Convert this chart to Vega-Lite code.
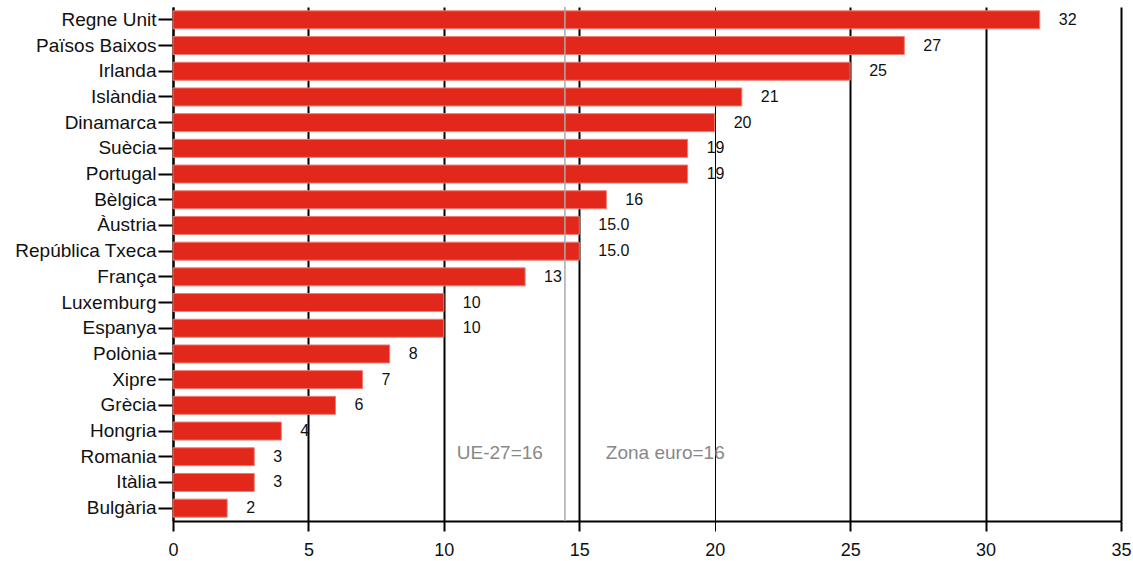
{
  "$schema": "https://vega.github.io/schema/vega-lite/v6.json",
  "autosize": "none",
  "width": 948,
  "height": 514,
  "padding": {"left": 173, "top": 7, "right": 12, "bottom": 40},
  "background": "white",
  "config": {"view": {"stroke": null}, "font": "Liberation Sans"},
  "datasets": {
    "bars": [
      {"pais": "Regne Unit", "valor": 32, "etiqueta": "32"},
      {"pais": "Països Baixos", "valor": 27, "etiqueta": "27"},
      {"pais": "Irlanda", "valor": 25, "etiqueta": "25"},
      {"pais": "Islàndia", "valor": 21, "etiqueta": "21"},
      {"pais": "Dinamarca", "valor": 20, "etiqueta": "20"},
      {"pais": "Suècia", "valor": 19, "etiqueta": "19"},
      {"pais": "Portugal", "valor": 19, "etiqueta": "19"},
      {"pais": "Bèlgica", "valor": 16, "etiqueta": "16"},
      {"pais": "Àustria", "valor": 15, "etiqueta": "15.0"},
      {"pais": "República Txeca", "valor": 15, "etiqueta": "15.0"},
      {"pais": "França", "valor": 13, "etiqueta": "13"},
      {"pais": "Luxemburg", "valor": 10, "etiqueta": "10"},
      {"pais": "Espanya", "valor": 10, "etiqueta": "10"},
      {"pais": "Polònia", "valor": 8, "etiqueta": "8"},
      {"pais": "Xipre", "valor": 7, "etiqueta": "7"},
      {"pais": "Grècia", "valor": 6, "etiqueta": "6"},
      {"pais": "Hongria", "valor": 4, "etiqueta": "4"},
      {"pais": "Romania", "valor": 3, "etiqueta": "3"},
      {"pais": "Itàlia", "valor": 3, "etiqueta": "3"},
      {"pais": "Bulgària", "valor": 2, "etiqueta": "2"}
    ],
    "refs": [
      {"nom": "UE-27=16", "valor": 14.47, "pais": "Romania"}
    ],
    "notes": [
      {"nom": "UE-27=16", "valor": 14.47, "pais": "Romania", "cas": "ue"},
      {"nom": "Zona euro=16", "valor": 20, "pais": "Romania", "cas": "ze"}
    ]
  },
  "layer": [
    {
      "data": {"name": "bars"},
      "mark": {"type": "bar", "color": "#e2271b", "stroke": "#f07a70", "strokeWidth": 1},
      "encoding": {
        "y": {
          "field": "pais", "type": "nominal", "sort": null,
          "scale": {"paddingInner": 0.3, "paddingOuter": 0.15},
          "axis": {
            "title": null, "labelFontSize": 19, "labelColor": "#111", "labelPadding": 2,
            "tickSize": 15, "tickWidth": 2, "tickColor": "black",
            "domainColor": "black", "domainWidth": 2
          }
        },
        "x": {
          "field": "valor", "type": "quantitative",
          "scale": {"domain": [0, 35], "nice": false},
          "axis": {
            "title": null, "values": [0, 5, 10, 15, 20, 25, 30, 35],
            "labelFontSize": 18, "labelColor": "#111", "labelPadding": 10, "labelFlush": false,
            "tickSize": 10, "tickColor": "black",
            "tickWidth": {"condition": {"test": "datum.value == 20", "value": 1}, "value": 2},
            "domainColor": "black", "domainWidth": 2,
            "grid": true, "gridColor": "black",
            "gridWidth": {"condition": {"test": "datum.value == 20", "value": 1}, "value": 2},
            "gridOpacity": 1
          }
        }
      }
    },
    {
      "data": {"name": "bars"},
      "mark": {"type": "text", "align": "left", "baseline": "middle", "dx": 19, "fontSize": 16, "color": "#111"},
      "encoding": {
        "y": {"field": "pais", "type": "nominal", "sort": null},
        "x": {"field": "valor", "type": "quantitative"},
        "text": {"field": "etiqueta"}
      }
    },
    {
      "data": {"name": "refs"},
      "mark": {"type": "rule", "color": "#aaaaaa", "strokeWidth": 1.5},
      "encoding": {
        "x": {"field": "valor", "type": "quantitative"}
      }
    },
    {
      "data": {"name": "notes"},
      "transform": [{"filter": "datum.cas == 'ue'"}],
      "mark": {"type": "text", "align": "right", "baseline": "middle", "dx": -22, "dy": -4, "fontSize": 19, "color": "#888888"},
      "encoding": {
        "y": {"field": "pais", "type": "nominal", "sort": null},
        "x": {"field": "valor", "type": "quantitative"},
        "text": {"field": "nom"}
      }
    },
    {
      "data": {"name": "notes"},
      "transform": [{"filter": "datum.cas == 'ze'"}],
      "mark": {"type": "text", "align": "right", "baseline": "middle", "dx": 10, "dy": -4, "fontSize": 19, "color": "#888888"},
      "encoding": {
        "y": {"field": "pais", "type": "nominal", "sort": null},
        "x": {"field": "valor", "type": "quantitative"},
        "text": {"field": "nom"}
      }
    }
  ]
}
